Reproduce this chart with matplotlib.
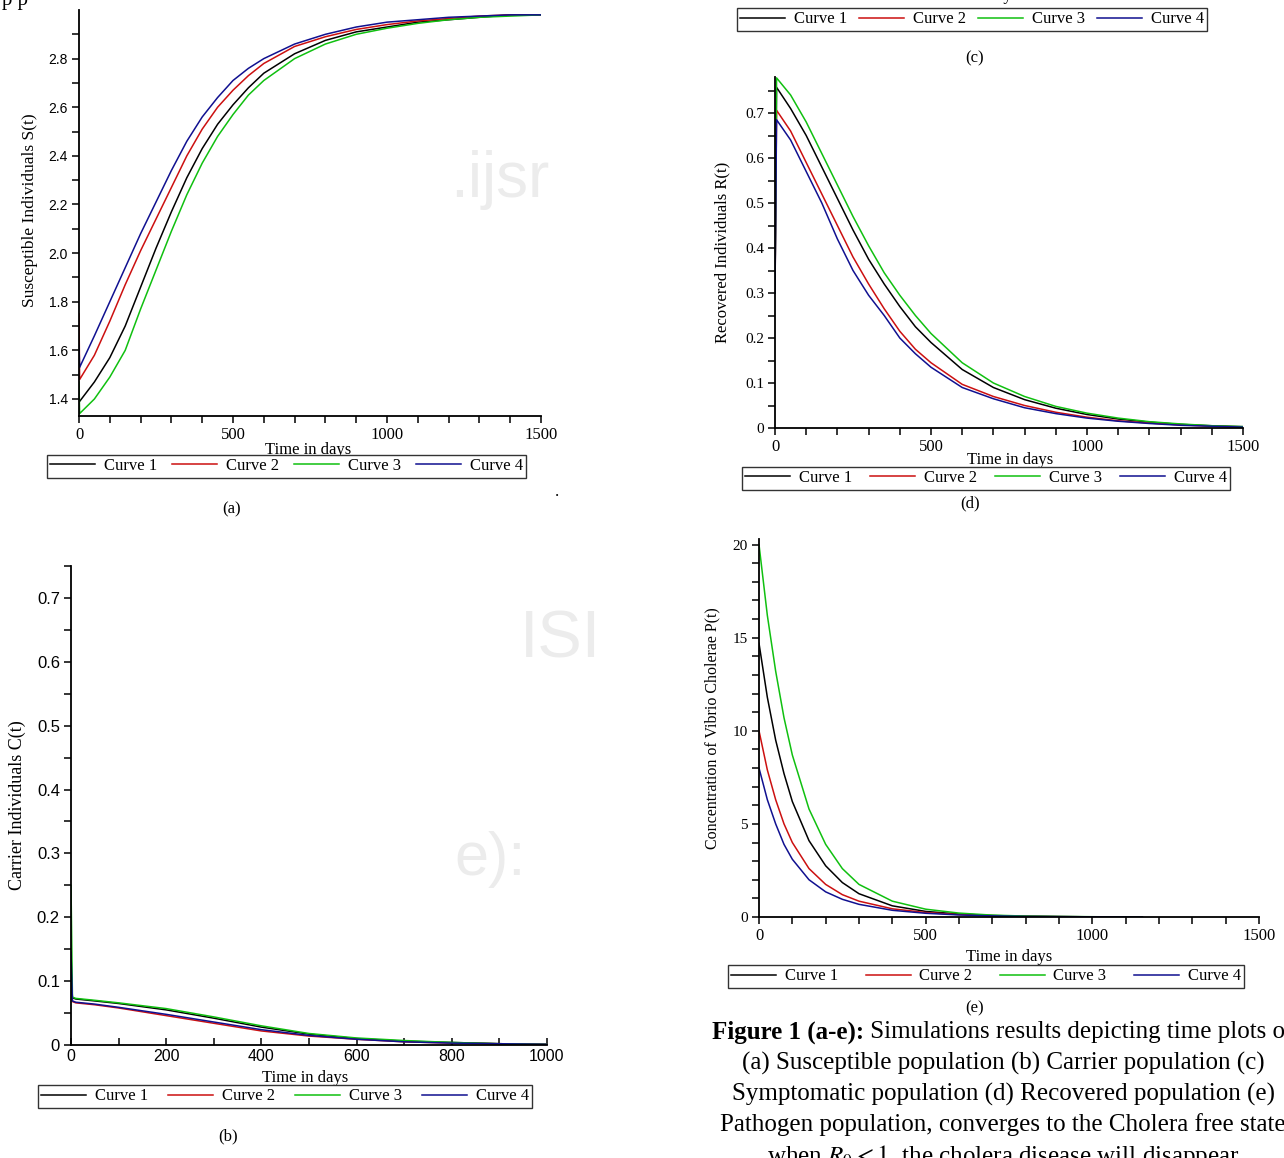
import matplotlib
matplotlib.use("Agg")
import matplotlib.pyplot as plt

plt.rcParams["mathtext.fontset"] = "stix"

W, H = 1284, 1158

def box(l, t, r, b):
    # pixel box -> figure fraction [left, bottom, width, height]
    return [l / W, 1 - b / H, (r - l) / W, (b - t) / H]

def fx(x):
    return x / W

def fy(y):
    return 1 - y / H

names = ["Curve 1", "Curve 2", "Curve 3", "Curve 4"]
colors = ["black", "#cc1010", "#10c010", "#101090"]

# (a) susceptible individuals
t_a = [0, 2, 50, 100, 150, 200, 250, 300, 350, 400, 450, 500, 550, 600,
       700, 800, 900, 1000, 1100, 1200, 1300, 1400, 1500]
s1 = [1.39, 1.39, 1.47, 1.57, 1.70, 1.86, 2.02, 2.17, 2.31, 2.43, 2.53, 2.61, 2.68, 2.74,
      2.82, 2.875, 2.91, 2.93, 2.95, 2.96, 2.97, 2.98, 2.98]
s2 = [1.75, 1.48, 1.58, 1.72, 1.87, 2.01, 2.14, 2.27, 2.40, 2.51, 2.60, 2.67, 2.73, 2.78,
      2.85, 2.89, 2.92, 2.94, 2.955, 2.965, 2.975, 2.98, 2.98]
s3 = [1.47, 1.34, 1.40, 1.49, 1.60, 1.77, 1.93, 2.09, 2.24, 2.37, 2.48, 2.57, 2.65, 2.71,
      2.80, 2.86, 2.90, 2.925, 2.945, 2.96, 2.97, 2.975, 2.98]
s4 = [1.62, 1.53, 1.66, 1.80, 1.94, 2.08, 2.21, 2.34, 2.46, 2.56, 2.64, 2.71, 2.76, 2.80,
      2.86, 2.90, 2.93, 2.95, 2.96, 2.97, 2.975, 2.98, 2.98]

# (b) carrier individuals
t_b = [0, 3, 10, 50, 100, 200, 300, 400, 500, 600, 700, 800, 900, 1000]
c1 = [0.12, 0.074, 0.072, 0.069, 0.065, 0.055, 0.042, 0.028, 0.017, 0.010, 0.006, 0.004, 0.002, 0.001]
c2 = [0.10, 0.068, 0.066, 0.063, 0.058, 0.046, 0.034, 0.022, 0.014, 0.009, 0.005, 0.003, 0.002, 0.001]
c3 = [0.25, 0.075, 0.073, 0.070, 0.066, 0.057, 0.044, 0.030, 0.018, 0.011, 0.007, 0.004, 0.002, 0.001]
c4 = [0.145, 0.069, 0.067, 0.064, 0.059, 0.048, 0.036, 0.024, 0.015, 0.009, 0.005, 0.003, 0.002, 0.001]

# (d) recovered individuals
t_d = [0, 5, 50, 100, 150, 200, 250, 300, 350, 400, 450, 500, 600, 700,
       800, 900, 1000, 1100, 1200, 1300, 1400, 1500]
r1 = [0.30, 0.757, 0.71, 0.65, 0.58, 0.51, 0.44, 0.375, 0.32, 0.27, 0.225, 0.19, 0.13, 0.09,
      0.063, 0.044, 0.03, 0.02, 0.013, 0.008, 0.005, 0.003]
r2 = [0.30, 0.706, 0.66, 0.59, 0.52, 0.45, 0.38, 0.32, 0.265, 0.215, 0.175, 0.145, 0.097, 0.07,
      0.05, 0.035, 0.024, 0.016, 0.011, 0.007, 0.004, 0.002]
r3 = [0.30, 0.778, 0.74, 0.68, 0.61, 0.54, 0.47, 0.405, 0.345, 0.295, 0.25, 0.21, 0.145, 0.10,
      0.07, 0.048, 0.033, 0.022, 0.014, 0.009, 0.005, 0.003]
r4 = [0.30, 0.685, 0.64, 0.57, 0.50, 0.42, 0.35, 0.295, 0.25, 0.20, 0.165, 0.135, 0.09, 0.065,
      0.045, 0.032, 0.022, 0.015, 0.010, 0.006, 0.004, 0.002]

# (e) pathogen concentration
t_e = [0, 25, 50, 75, 100, 150, 200, 250, 300, 400, 500, 600, 700, 800, 900, 1000, 1150]
p1 = [14.7, 11.8, 9.5, 7.7, 6.2, 4.1, 2.75, 1.85, 1.25, 0.6, 0.3, 0.16, 0.08, 0.04, 0.02, 0.01, 0.0]
p2 = [10.0, 7.9, 6.3, 5.0, 4.0, 2.6, 1.75, 1.2, 0.85, 0.44, 0.24, 0.13, 0.07, 0.04, 0.02, 0.01, 0.0]
p3 = [20.0, 16.2, 13.2, 10.7, 8.7, 5.8, 3.9, 2.6, 1.75, 0.85, 0.42, 0.21, 0.1, 0.05, 0.03, 0.015, 0.0]
p4 = [8.0, 6.3, 5.0, 3.9, 3.1, 2.0, 1.35, 0.95, 0.68, 0.36, 0.2, 0.11, 0.06, 0.03, 0.02, 0.01, 0.0]

serif = "Liberation Serif"
sans = "Liberation Sans"

fig = plt.figure(figsize=(W / 100, H / 100), dpi=100)

# faint journal watermark behind the plots
for x, y, s, size in [(500, 180, ".ijsr", 46), (560, 640, "ISI", 48), (490, 860, "e):", 44)]:
    fig.text(fx(x), fy(y), s, ha="center", va="center", fontsize=size,
             fontfamily=sans, color="#ececec", zorder=-5)


def panel(rect, t, ys, xlim, ylim, xticks, xlabels, yticks, ylabels,
          xminor, yminor, xfont, yfont, xsize, ysize, xdir="out"):
    ax = fig.add_axes(rect)
    lines = []
    for y, c in zip(ys, colors):
        ln, = ax.plot(t, y, color=c, lw=1.1)
        lines.append(ln)
    ax.set_xlim(*xlim)
    ax.set_ylim(*ylim)
    for s in ["top", "right"]:
        ax.spines[s].set_visible(False)
    for s in ["left", "bottom"]:
        ax.spines[s].set_linewidth(1.3)
    ax.set_xticks(xticks)
    ax.set_xticklabels(xlabels, fontfamily=xfont, fontsize=xsize)
    ax.set_yticks(yticks)
    ax.set_yticklabels(ylabels, fontfamily=yfont, fontsize=ysize)
    ax.set_xticks(xminor, minor=True)
    ax.set_yticks(yminor, minor=True)
    ax.tick_params(axis="x", which="both", direction=xdir, length=5, width=1.1, pad=3)
    ax.tick_params(axis="y", which="both", direction="out", length=5, width=1.1, pad=3)
    ax.patch.set_alpha(0)
    return lines


def legend(lines, l, t, r):
    fig.legend(lines, names, loc="upper left",
               bbox_to_anchor=(fx(l), fy(t), fx(r) - fx(l), 0),
               mode="expand", ncol=4, borderaxespad=0, borderpad=0.2,
               handlelength=2.7, handletextpad=0.5, columnspacing=0.8,
               fancybox=False, edgecolor="#333333", framealpha=1,
               prop={"family": serif, "size": 12})


def label(x, y, s, size=12, **kw):
    fig.text(fx(x), fy(y), s, ha="center", va="center",
             fontfamily=serif, fontsize=size, **kw)


# cut text of the page line above the figure, and a stray dot
fig.text(fx(2), fy(5), "p p", fontfamily=serif, fontsize=15, va="baseline")
fig.text(fx(557), fy(492), ".", fontfamily=serif, fontsize=12, ha="center", va="center")

# (a)
la = panel(box(79, 10, 541, 416), t_a, [s1, s2, s3, s4], (0, 1500), (1.33, 3.0),
           [0, 500, 1000, 1500], ["0", "500", "1000", "1500"],
           [1.4, 1.6, 1.8, 2.0, 2.2, 2.4, 2.6, 2.8],
           ["1.4", "1.6", "1.8", "2.0", "2.2", "2.4", "2.6", "2.8"],
           list(range(100, 1500, 100)), [1.5, 1.7, 1.9, 2.1, 2.3, 2.5, 2.7, 2.9],
           serif, sans, 12, 10)
label(308, 450, "Time in days")
label(30, 210, "Susceptible Individuals S(t)", size=12.5, rotation=90)
legend(la, 47, 455, 526)
label(232, 509, "(a)")

# (b)
lb = panel(box(71, 566, 547, 1045), t_b, [c1, c2, c3, c4], (0, 1000), (0, 0.75),
           [0, 200, 400, 600, 800, 1000], ["0", "200", "400", "600", "800", "1000"],
           [0, 0.1, 0.2, 0.3, 0.4, 0.5, 0.6, 0.7],
           ["0", "0.1", "0.2", "0.3", "0.4", "0.5", "0.6", "0.7"],
           [100, 300, 500, 700, 900], [0.05, 0.15, 0.25, 0.35, 0.45, 0.55, 0.65, 0.75],
           sans, sans, 11.5, 12, xdir="in")
label(305, 1078, "Time in days")
label(17, 805, "Carrier Individuals C(t)", size=13, rotation=90)
legend(lb, 38, 1085, 532)
label(228, 1136, "(b)")

# (c) only the legend of this panel is visible
label(975, -4, "Time in days")
legend(lb, 737, 8, 1207)
label(975, 58, "(c)")

# (d)
ld = panel(box(775, 77, 1243, 428), t_d, [r1, r2, r3, r4], (0, 1500), (0, 0.78),
           [0, 500, 1000, 1500], ["0", "500", "1000", "1500"],
           [0, 0.1, 0.2, 0.3, 0.4, 0.5, 0.6, 0.7],
           ["0", "0.1", "0.2", "0.3", "0.4", "0.5", "0.6", "0.7"],
           list(range(100, 1500, 100)), [0.05, 0.15, 0.25, 0.35, 0.45, 0.55, 0.65, 0.75],
           serif, serif, 12, 11)
label(1010, 460, "Time in days")
label(722, 252, "Recovered Individuals R(t)", size=12, rotation=90)
legend(ld, 742, 467, 1230)
label(970, 503, "(d)")

# (e)
le = panel(box(759, 539, 1259, 917), t_e, [p1, p2, p3, p4], (0, 1500), (0, 20.3),
           [0, 500, 1000, 1500], ["0", "500", "1000", "1500"],
           [0, 5, 10, 15, 20], ["0", "5", "10", "15", "20"],
           list(range(100, 1500, 100)), [v for v in range(1, 21) if v % 5],
           serif, serif, 12, 11)
label(1009, 957, "Time in days")
label(712, 728, "Concentration of Vibrio Cholerae P(t)", size=11.5, rotation=90)
legend(le, 728, 965, 1244)
label(975, 1008, "(e)")

# caption, centred under the right column and cut by the page edge
cap_cx = 1003
cap_lines = [
    "(a) Susceptible population (b) Carrier population (c)",
    "Symptomatic population (d) Recovered population (e)",
    "Pathogen population, converges to the Cholera free state",
    "when $R_0<1$, the cholera disease will disappear",
]
renderer = fig.canvas.get_renderer()
tb = fig.text(0, fy(1032), "Figure 1 (a-e):", fontfamily=serif, fontsize=18,
              fontweight="bold", va="center", ha="left")
tr = fig.text(0, fy(1032), " Simulations results depicting time plots of",
              fontfamily=serif, fontsize=18, va="center", ha="left")
wb = tb.get_window_extent(renderer).width
wr = tr.get_window_extent(renderer).width
x0 = cap_cx - (wb + wr) / 2
tb.set_x(fx(x0))
tr.set_x(fx(x0 + wb))
for i, s in enumerate(cap_lines):
    fig.text(fx(cap_cx), fy(1063 + 31 * i), s, fontfamily=serif, fontsize=18,
             ha="center", va="center")

fig.savefig("out.png", dpi=100)
